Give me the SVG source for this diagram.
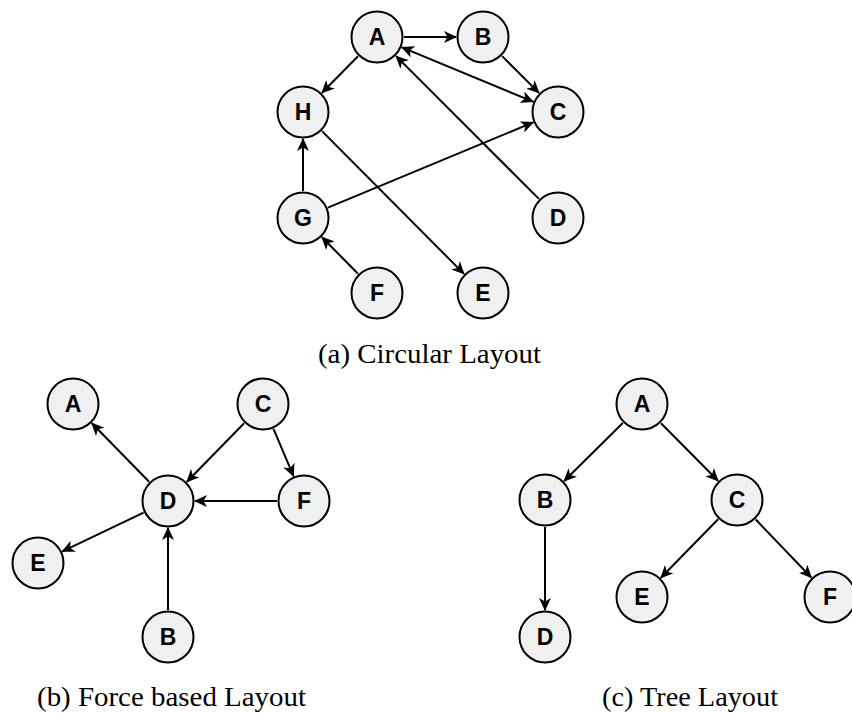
<svg xmlns="http://www.w3.org/2000/svg" width="852" height="713" viewBox="0 0 852 713">
<style>
.n circle{fill:#f0f0f0;stroke:#000;stroke-width:2}
.n text{font-family:"Liberation Sans",Arial,sans-serif;font-weight:bold;font-size:23px;text-anchor:middle;fill:#000}
.e line{stroke:#000;stroke-width:2;marker-end:url(#ah)}
.cap{font-family:"Liberation Serif","Times New Roman",serif;font-size:27px;fill:#000}
</style>
<defs>
<marker id="ah" viewBox="0 0 13 12" refX="12" refY="6" markerWidth="13" markerHeight="12" markerUnits="userSpaceOnUse" orient="auto-start-reverse">
<path d="M0,0 L13,6 L0,12 L3.5,6 z" fill="#000"/>
</marker>
</defs>
<rect width="852" height="713" fill="#fff"/>
<g id="connectors" class="e">
<!-- circular -->
<line x1="404" y1="37" x2="456" y2="37"/>
<line x1="502.1" y1="56.1" x2="538.9" y2="92.9"/>
<line x1="401.9" y1="47.3" x2="533.1" y2="101.7" marker-start="url(#ah)"/>
<line x1="538.9" y1="198.9" x2="396.1" y2="56.1"/>
<line x1="358" y1="56.2" x2="322" y2="92.8"/>
<line x1="322" y1="131.1" x2="464" y2="273.9"/>
<line x1="303" y1="191" x2="303" y2="139"/>
<line x1="327.9" y1="207.6" x2="533.1" y2="122.4"/>
<line x1="358" y1="273.8" x2="322" y2="237.2"/>
<!-- force -->
<line x1="149.1" y1="481.7" x2="91.9" y2="423.3"/>
<line x1="244.1" y1="423.3" x2="186.9" y2="481.7"/>
<line x1="273.5" y1="428.9" x2="293.5" y2="476.1"/>
<line x1="277" y1="501" x2="195" y2="501"/>
<line x1="143.6" y1="512.6" x2="62.4" y2="551.4"/>
<line x1="168" y1="610" x2="168" y2="528"/>
<!-- tree -->
<line x1="622.8" y1="423" x2="564.2" y2="481"/>
<line x1="661" y1="423.2" x2="718" y2="480.8"/>
<line x1="545" y1="527" x2="545" y2="610"/>
<line x1="718.1" y1="519.3" x2="660.9" y2="577.7"/>
<line x1="755.7" y1="519.5" x2="811.3" y2="577.5"/>
</g>
<g id="a-A" class="n"><circle cx="377" cy="37" r="25.5"/><text x="377" y="45">A</text></g>
<g id="a-B" class="n"><circle cx="483" cy="37" r="25.5"/><text x="483" y="45">B</text></g>
<g id="a-C" class="n"><circle cx="558" cy="112" r="25.5"/><text x="558" y="120">C</text></g>
<g id="a-D" class="n"><circle cx="558" cy="218" r="25.5"/><text x="558" y="226">D</text></g>
<g id="a-E" class="n"><circle cx="483" cy="293" r="25.5"/><text x="483" y="301">E</text></g>
<g id="a-F" class="n"><circle cx="377" cy="293" r="25.5"/><text x="377" y="301">F</text></g>
<g id="a-G" class="n"><circle cx="303" cy="218" r="25.5"/><text x="303" y="226">G</text></g>
<g id="a-H" class="n"><circle cx="303" cy="112" r="25.5"/><text x="303" y="120">H</text></g>
<g id="b-A" class="n"><circle cx="73" cy="404" r="25.5"/><text x="73" y="412">A</text></g>
<g id="b-C" class="n"><circle cx="263" cy="404" r="25.5"/><text x="263" y="412">C</text></g>
<g id="b-D" class="n"><circle cx="168" cy="501" r="25.5"/><text x="168" y="509">D</text></g>
<g id="b-F" class="n"><circle cx="304" cy="501" r="25.5"/><text x="304" y="509">F</text></g>
<g id="b-E" class="n"><circle cx="38" cy="563" r="25.5"/><text x="38" y="571">E</text></g>
<g id="b-B" class="n"><circle cx="168" cy="637" r="25.5"/><text x="168" y="645">B</text></g>
<g id="c-A" class="n"><circle cx="642" cy="404" r="25.5"/><text x="642" y="412">A</text></g>
<g id="c-B" class="n"><circle cx="545" cy="500" r="25.5"/><text x="545" y="508">B</text></g>
<g id="c-C" class="n"><circle cx="737" cy="500" r="25.5"/><text x="737" y="508">C</text></g>
<g id="c-E" class="n"><circle cx="642" cy="597" r="25.5"/><text x="642" y="605">E</text></g>
<g id="c-F" class="n"><circle cx="830" cy="597" r="25.5"/><text x="830" y="605">F</text></g>
<g id="c-D" class="n"><circle cx="545" cy="637" r="25.5"/><text x="545" y="645">D</text></g>
<text class="cap" x="318" y="363" textLength="223" lengthAdjust="spacingAndGlyphs">(a) Circular Layout</text>
<text class="cap" x="37" y="706" textLength="269" lengthAdjust="spacingAndGlyphs">(b) Force based Layout</text>
<text class="cap" x="602" y="706" textLength="176" lengthAdjust="spacingAndGlyphs">(c) Tree Layout</text>
</svg>
